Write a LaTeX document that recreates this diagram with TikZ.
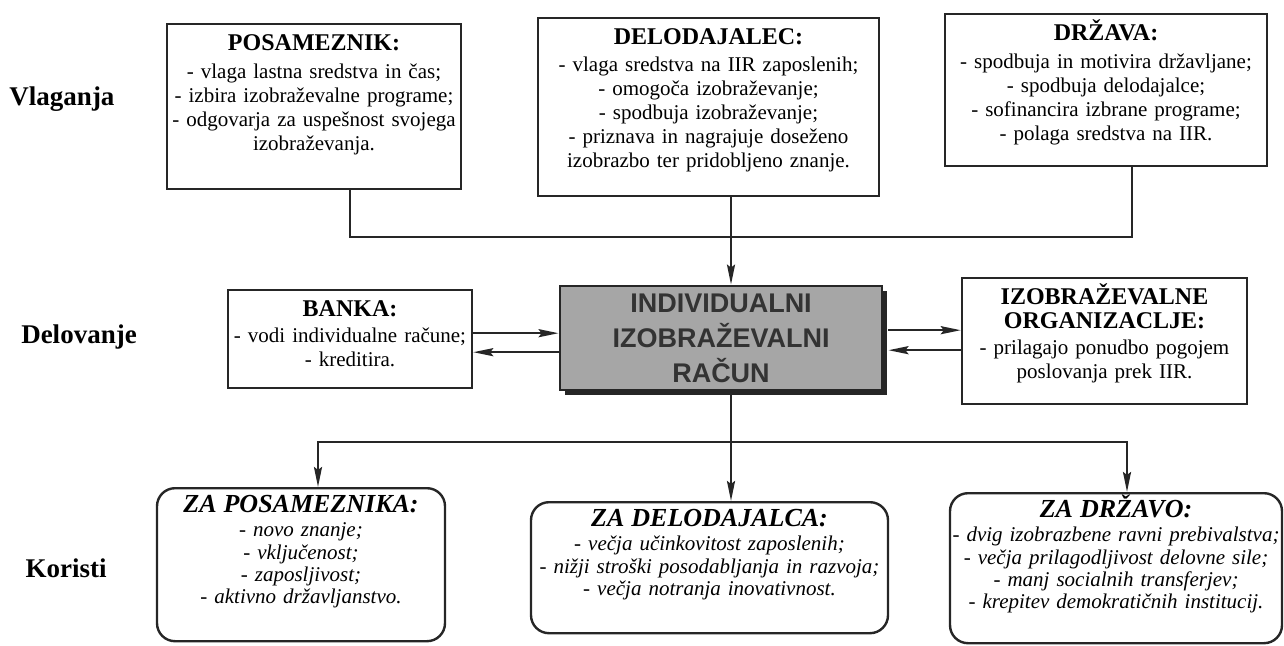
\documentclass[tikz,border=0pt]{standalone}
\usepackage{fontspec}
\setmainfont{Liberation Serif}
\newfontfamily\accountfont{Liberation Sans}
\usetikzlibrary{positioning, arrows.meta, shadows}

\newcommand{\boxhead}[1]{{\fontsize{12}{13}\selectfont\bfseries #1}}
\newcommand{\gainhead}[1]{{\fontsize{13}{14}\selectfont\bfseries\itshape #1}}

\begin{document}
\begin{tikzpicture}[
    x=0.5pt, y=-0.5pt,
    box/.style={draw=black!85, line width=1.2pt, rectangle, anchor=north, align=center, inner xsep=0pt, inner ysep=0pt, text height=13pt, font=\fontsize{10.5}{12}\selectfont},
    gain/.style={box, rounded corners=9pt, text height=12pt, font=\fontsize{10.5}{11.2}\selectfont\itshape},
    account/.style={draw=black!85, line width=1.4pt, rectangle, fill=black!35, text=black!80, align=center, minimum width=161pt, minimum height=52pt, font=\accountfont\fontsize{13.5}{17.5}\selectfont\bfseries, drop shadow={shadow xshift=2.5pt, shadow yshift=-2.5pt, fill=black!85, opacity=1}},
    stage/.style={font=\fontsize{13.5}{15}\selectfont\bfseries},
    link/.style={draw=black!85, line width=1.2pt},
    arrow/.style={link, -{Stealth[length=10pt, width=4pt, inset=1.5pt]}}
]
\useasboundingbox (0,0) rectangle (1284,646);

% Nodes
\node[stage] (vlag) at (62,99) {Vlaganja};
\node[stage] (delov) at (79,337) {Delovanje};
\node[stage] (kor) at (66,568) {Koristi};

\node[box, text width=147pt, text depth=69.5pt] (pos) at (314,23) {\boxhead{POSAMEZNIK:}\\[2pt] - vlaga lastna sredstva in čas;\\ - izbira izobraževalne programe;\\ - odgovarja za uspešnost svojega\\ izobraževanja.};
\node[box, text width=170.5pt, text depth=76pt] (del) at (708.5,17) {\boxhead{DELODAJALEC:}\\[1.5pt] - vlaga sredstva na IIR zaposlenih;\\ - omogoča izobraževanje;\\ - spodbuja izobraževanje;\\ - priznava in nagrajuje doseženo\\ izobrazbo ter pridobljeno znanje.};
\node[box, text width=161pt, text depth=63pt] (drz) at (1106,13) {\boxhead{DRŽAVA:}\\[2pt] - spodbuja in motivira državljane;\\ - spodbuja delodajalce;\\ - sofinancira izbrane programe;\\ - polaga sredstva na IIR.};

\node[box, text width=122pt, text depth=36pt] (banka) at (350,289) {\boxhead{BANKA:}\\[1pt] - vodi individualne račune;\\ - kreditira.};
\node[account] (iir) at (721,338) {INDIVIDUALNI\\IZOBRAŽEVALNI\\RAČUN};
\node[box, text width=142.5pt, text depth=50pt] (izob) at (1104.5,277) {\boxhead{IZOBRAŽEVALNE}\\\boxhead{ORGANIZACLJE:}\\[1pt] - prilagajo ponudbo pogojem\\ poslovanja prek IIR.};

\node[gain, text width=144pt, text depth=64.5pt] (zpos) at (301,487) {\gainhead{ZA POSAMEZNIKA:}\\[1pt] - novo znanje;\\ - vključenost;\\ - zaposljivost;\\ - aktivno državljanstvo.};
\node[gain, text width=178.5pt, text depth=53.5pt] (zdel) at (709.5,501) {\gainhead{ZA DELODAJALCA:}\\[1pt] - večja učinkovitost zaposlenih;\\ - nižji stroški posodabljanja in razvoja;\\ - večja notranja inovativnost.};
\node[gain, text width=166pt, text depth=63pt] (zdrz) at (1116,492) {\gainhead{ZA DRŽAVO:}\\[1pt] - dvig izobrazbene ravni prebivalstva;\\ - večja prilagodljivost delovne sile;\\ - manj socialnih transferjev;\\ - krepitev demokratičnih institucij.};

\coordinate (topjoin) at (731,237);
\coordinate (botjoin) at (731,442);
\coordinate (bk1) at ([yshift=3pt]banka.east);
\coordinate (bk2) at ([yshift=-6.5pt]banka.east);
\coordinate (io1) at ([yshift=5.5pt]izob.west);
\coordinate (io2) at ([yshift=-4.5pt]izob.west);
\coordinate (iirx) at ([xshift=2.5pt]iir.east);

% Edges
\draw[link] ([xshift=18pt]pos.south) |- (topjoin) -| ([xshift=13pt]drz.south);
\draw[arrow] (topjoin |- del.south) -- (topjoin |- iir.north);
\draw[arrow] (bk1) -- (bk1 -| iir.west);
\draw[arrow] (bk2 -| iir.west) -- (bk2);
\draw[arrow] (io1 -| iirx) -- (io1);
\draw[arrow] (io2) -- (io2 -| iirx);
\draw[link] (topjoin |- iir.south) -- (botjoin);
\draw[arrow] (botjoin) -| ([xshift=8.5pt]zpos.north);
\draw[arrow] (botjoin) -- (botjoin |- zdel.north);
\draw[arrow] (botjoin) -| ([xshift=5.5pt]zdrz.north);

\end{tikzpicture}
\end{document}
